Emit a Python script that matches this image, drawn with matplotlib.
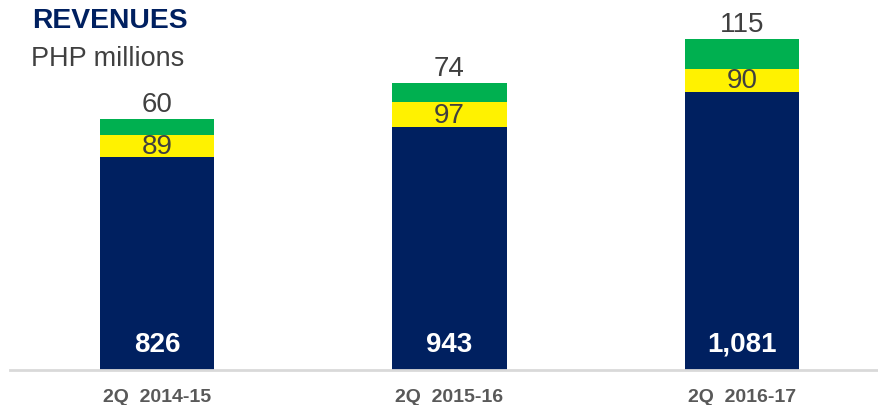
import numpy as np
import matplotlib.pyplot as plt

plt.rcParams['font.family'] = ['Liberation Sans', 'DejaVu Sans']

quarters = ['2Q  2014-15', '2Q  2015-16', '2Q  2016-17']
core = [826, 943, 1081]
mid = [89, 97, 90]
other = [60, 74, 115]

navy = '#002060'
yellow = '#FFF200'
green = '#00B050'

fig = plt.figure(figsize=(8.79, 4.06), dpi=100)
ax = fig.add_axes([10 / 879, 35 / 406, 869 / 879, 371 / 406])

x = np.arange(len(quarters))
w = 0.393
ax.bar(x, core, w, color=navy)
ax.bar(x, mid, w, bottom=core, color=yellow)
bottom2 = np.array(core) + np.array(mid)
ax.bar(x, other, w, bottom=bottom2, color=green)

for i in range(len(x)):
    ax.annotate(f'{core[i]:,}', xy=(x[i], 0), xytext=(0, 13.7), textcoords='offset points',
                ha='center', va='baseline', color='white', fontsize=20, fontweight='bold')
    ax.text(x[i], core[i] + mid[i] / 2, str(mid[i]), ha='center', va='center',
            color='#404040', fontsize=20)
    ax.annotate(str(other[i]), xy=(x[i], bottom2[i] + other[i]), xytext=(0, 1.5),
                textcoords='offset points', ha='center', va='bottom', color='#404040', fontsize=20)

ax.set_xlim((10 - 157) / 292.5, (879 - 157) / 292.5)
ax.set_ylim(0, 371 / 0.2573)
ax.set_xticks(x)
ax.set_xticklabels(quarters, fontsize=14, fontweight='bold', color='#595959')
ax.tick_params(axis='x', length=0, pad=13)
ax.set_yticks([])
for s in ['top', 'left', 'right']:
    ax.spines[s].set_visible(False)
ax.spines['bottom'].set_color('#d9d9d9')
ax.spines['bottom'].set_linewidth(2)

fig.text(32 / 879, 1 - 28 / 406, 'REVENUES', fontsize=20.3, fontweight='bold', color=navy, va='baseline')
fig.text(31 / 879, 1 - 66 / 406, 'PHP millions', fontsize=19.5, color='#404040', va='baseline')

fig.savefig('out.png', dpi=100)
